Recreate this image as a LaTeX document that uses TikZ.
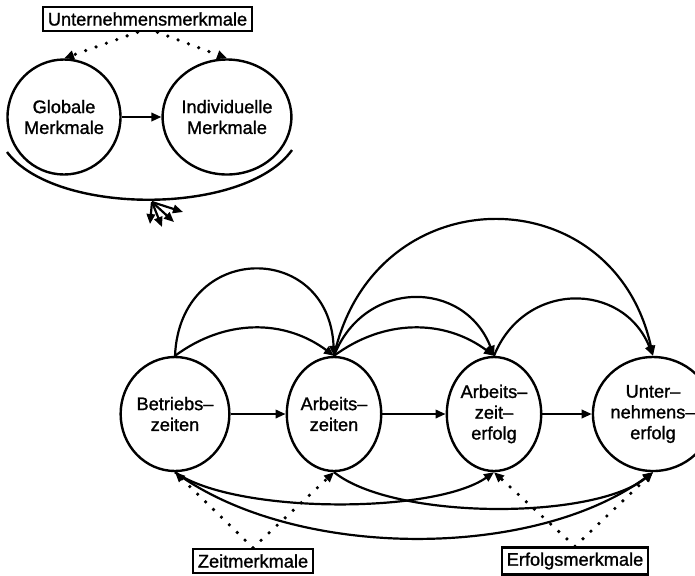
\documentclass[tikz,border=0pt]{standalone}
\usepackage{fontspec}
\setmainfont{Liberation Sans}
\newfontfamily\plotschrift[FakeBold=1.2,Ligatures=TeX]{Liberation Sans}
\usetikzlibrary{arrows.meta,positioning,shapes.geometric}

\begin{document}
\begin{tikzpicture}[x=0.5pt, y=0.5pt,
  schrift/.style={font=\plotschrift\fontsize{9.1}{10.4}\selectfont},
  merkmal/.style={schrift, draw, line width=1.2pt, inner sep=2.5pt, minimum height=12pt},
  kreis/.style={schrift, ellipse, draw, line width=1.2pt, inner sep=0pt, align=center,
    minimum width=47pt, minimum height=57pt},
  gross/.style={kreis, minimum width=51pt, minimum height=57.5pt},
  pfeil/.style={line width=1.1pt, -{Triangle[length=5pt,width=4.2pt]}},
  punkte/.style={pfeil, line width=1.8pt, line cap=round, dash pattern=on 0pt off 5.5pt}]
  \useasboundingbox (0,0) rectangle (695,-575);
  % UNTERNEHMEN - top left
  \node[merkmal] (umm) at (147.5,-19) {Unternehmensmerkmale};
  \node[gross] (glob) at (64,-117) {Globale\\Merkmale};
  \node[gross] (indiv) at (227,-117) {Individuelle\\Merkmale};
  \draw[pfeil] (glob) -- (indiv);
  \draw[punkte] ([xshift=-5pt]umm.south) -- (glob.north);
  \draw[punkte] ([xshift=5pt]umm.south) -- (indiv.north);
  \draw[line width=1.2pt] (7,-152) .. controls (55,-216) and (245,-216) .. (292,-150);
  \coordinate (fan) at (152,-202);
  \foreach \x/\y in {150/-224, 162/-227, 174/-222, 183/-212}
    \draw[pfeil] (fan) -- (\x,\y);
  % ZEITEN UND ERFOLG - bottom row
  \node[kreis] (bz) at (175,-414) {Betriebs–\\zeiten};
  \node[kreis] (az) at (334,-414) {Arbeits–\\zeiten};
  \node[kreis] (aze) at (494,-414) {Arbeits–\\zeit–\\erfolg};
  \node[kreis] (ue) at (653,-414) {Unter–\\nehmens–\\erfolg};
  \draw[pfeil] (bz) -- (az);
  \draw[pfeil] (az) -- (aze);
  \draw[pfeil] (aze) -- (ue);
  % arcs above
  \draw[pfeil] (bz.north) .. controls +(5,115) and +(-5,115) .. (az.north);
  \draw[pfeil] (bz.north) .. controls +(50,37) and +(-50,37) .. (az.north);
  \draw[pfeil] (az.north) .. controls +(40,181) and +(-40,181) .. (ue.north);
  \draw[pfeil] (az.north) .. controls +(30,77) and +(-30,77) .. (aze.north);
  \draw[pfeil] (az.north) .. controls +(50,37) and +(-50,37) .. (aze.north);
  \draw[pfeil] (aze.north) .. controls +(30,75) and +(-30,75) .. (ue.north);
  % arcs below
  \draw[pfeil] (bz.south) .. controls +(60,-42) and +(-60,-42) .. (aze.south);
  \draw[pfeil] (bz.south) .. controls +(120,-88) and +(-120,-88) .. (ue.south);
  \draw[pfeil] (az.south) .. controls +(60,-48) and +(-60,-48) .. (ue.south);
  % MERKMALE - bottom
  \node[merkmal] (zm) at (253,-561) {Zeitmerkmale};
  \node[merkmal] (em) at (575,-561) {Erfolgsmerkmale};
  \draw[punkte] (zm.north) -- (bz.south);
  \draw[punkte] (zm.north) -- (az.south);
  \draw[punkte] (em.north) -- (aze.south);
  \draw[punkte] (em.north) -- (ue.south);
\end{tikzpicture}
\end{document}
